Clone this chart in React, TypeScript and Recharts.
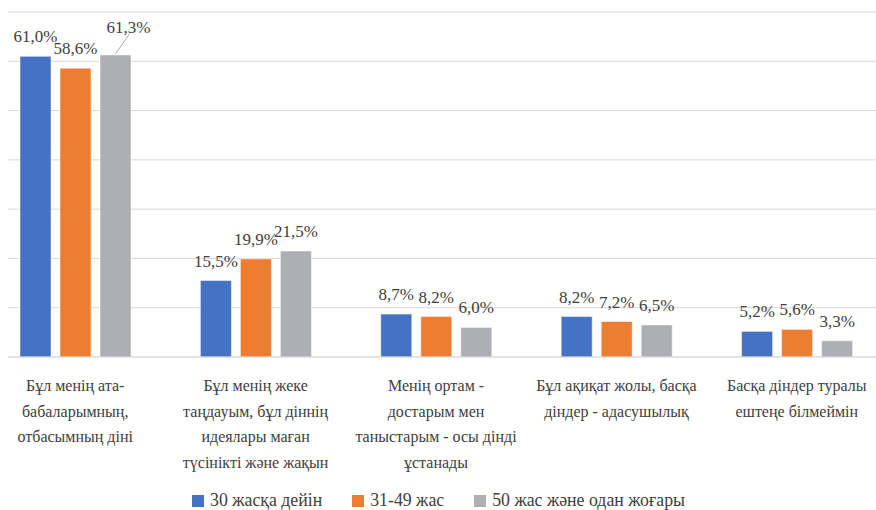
import React from 'react'
import { BarChart, Bar, XAxis, YAxis, CartesianGrid, Legend, LabelList } from 'recharts'

const categories = [
  'Бұл менің ата-\nбабаларымның,\nотбасымның діні',
  'Бұл менің жеке\nтаңдауым, бұл діннің\nидеялары маған\nтүсінікті және жақын',
  'Менің ортам -\nдостарым мен\nтаныстарым - осы дінді\nұстанады',
  'Бұл ақиқат жолы, басқа\nдіндер - адасушылық',
  'Басқа діндер туралы\nештеңе білмеймін',
]
const under30 = [61.0, 15.5, 8.7, 8.2, 5.2]
const age31to49 = [58.6, 19.9, 8.2, 7.2, 5.6]
const age50plus = [61.3, 21.5, 6.0, 6.5, 3.3]
const seriesNames = ['30 жасқа дейін', '31-49 жас', '50 жас және одан жоғары']
const yTicks = [0, 10, 20, 30, 40, 50, 60, 70]

const colors = ['#4472C4', '#ED7D31', '#AEAFB2']
const keys = ['a', 'b', 'c']
const FONT = "'Liberation Serif', 'Times New Roman', serif"
const TEXT = '#404040'

const data = categories.map((name, i) => ({ name, a: under30[i], b: age31to49[i], c: age50plus[i] }))

// the one label that Excel pushed aside, with a leader line back to its bar
const nudges: Record<string, { dx: number; dy: number }> = { 'c-0': { dx: 13, dy: -8 } }

const fmt = (v: number) => v.toFixed(1).replace('.', ',') + '%'

const makeLabel = (key: string) => (props: any) => {
  const { x, y, width, value, index } = props
  const cx = Number(x) + Number(width) / 2
  const top = Number(y)
  const n = nudges[`${key}-${index}`]
  const tx = cx + (n ? n.dx : 0)
  const ty = top - 14 + (n ? n.dy : 0)
  return (
    <g>
      {n && <line x1={cx} y1={top - 1} x2={tx + 1} y2={ty + 1} stroke="#A6A6A6" strokeWidth={1} />}
      <text x={tx} y={ty} textAnchor="middle" style={{ fontFamily: FONT, fontSize: 17 }} fill={TEXT}>
        {fmt(Number(value))}
      </text>
    </g>
  )
}

const CategoryTick = (props: any) => {
  const { x, y, payload } = props
  const lines = String(payload.value).split('\n')
  return (
    <text x={x} y={y + 26} textAnchor="middle" style={{ fontFamily: FONT, fontSize: 16 }} fill={TEXT}>
      {lines.map((l, i) => (
        <tspan key={i} x={x} dy={i === 0 ? 0 : 25.5}>{l}</tspan>
      ))}
    </text>
  )
}

const renderLegend = () => (
  <div style={{ boxSizing: 'border-box', display: 'flex', justifyContent: 'center', alignItems: 'center', gap: 30, height: 24, paddingLeft: 5, paddingTop: 1, fontFamily: FONT, fontSize: 17.8, color: TEXT }}>
    {seriesNames.map((n, i) => (
      <span key={n} style={{ display: 'flex', alignItems: 'center' }}>
        <span style={{ display: 'inline-block', width: 12, height: 12, background: colors[i], marginRight: 6 }} />
        {n}
      </span>
    ))}
  </div>
)

export default function App() {
  return (
    <div style={{ position: 'absolute', left: 0, top: 0, width: 876, height: 510, overflow: 'hidden', background: '#fff', fontFamily: FONT }}>
      <div style={{ position: 'absolute', left: 8, top: 0, width: 868, height: 510, overflow: 'hidden' }}>
        <div style={{ position: 'absolute', left: -23, top: 0 }}>
          <BarChart width={902} height={512} data={data} margin={{ top: 12, right: 0, bottom: 0, left: 0 }} barSize={31} barGap={9}>
            <CartesianGrid vertical={false} stroke="#D9D9D9" />
            <YAxis hide domain={[0, 70]} ticks={yTicks} />
            <XAxis dataKey="name" height={131} interval={0} tickLine={false} axisLine={{ stroke: '#D9D9D9' }} tick={<CategoryTick />} />
            <Legend verticalAlign="bottom" content={renderLegend} />
            {keys.map((k, i) => (
              <Bar key={k} dataKey={k} name={seriesNames[i]} fill={colors[i]} stroke="#fff" strokeWidth={0.5} isAnimationActive={false}>
                <LabelList dataKey={k} content={makeLabel(k)} />
              </Bar>
            ))}
          </BarChart>
        </div>
      </div>
    </div>
  )
}
